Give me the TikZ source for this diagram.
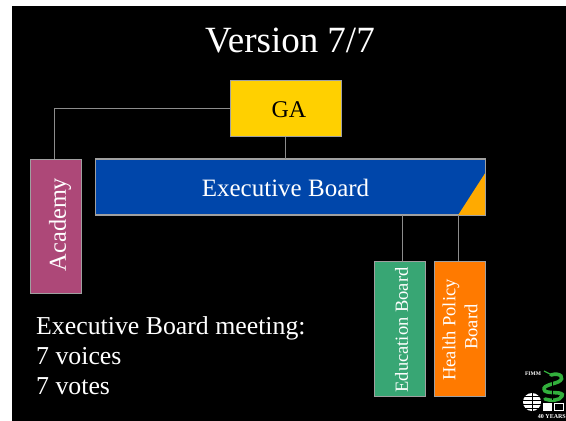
\documentclass[tikz,border=0pt]{standalone}
\usepackage{fontspec}
\setmainfont{Liberation Serif}
\definecolor{gaY}{RGB}{255,208,0}
\definecolor{exB}{RGB}{0,70,170}
\definecolor{acM}{RGB}{173,72,120}
\definecolor{edG}{RGB}{56,166,116}
\definecolor{hpO}{RGB}{255,122,0}
\definecolor{triO}{RGB}{255,170,0}
\definecolor{lineG}{RGB}{160,160,160}
\definecolor{connG}{RGB}{140,140,140}
\definecolor{snakeG}{RGB}{50,175,60}
\tikzset{
 px/.style={x=1pt,y=-1pt},
 boxn/.style={draw=lineG,line width=0.8pt,inner sep=0pt,align=center,text=white},
 conn/.style={draw=connG,line width=1pt},
 lbl/.style={text=white,inner sep=0pt,align=left}
}
\begin{document}
\begin{tikzpicture}[px]
\useasboundingbox (0,0) rectangle (566,421);
\fill[white] (0,0) rectangle (566,421);
\fill[black] (12,6) rectangle (566,421);
\node[lbl,font=\fontsize{37}{40}\selectfont] (title) at (290,41) {Version 7/7};
% boxes
\node[boxn,fill=gaY,minimum width=111.2pt,minimum height=55.6pt] (ga) at (285.8,108.3) {};
\node[text=black,inner sep=0pt,font=\fontsize{24}{28}\selectfont] (gal) at (289,110) {GA};
\node[boxn,fill=exB,minimum width=389.5pt,minimum height=55.6pt] (ex) at (290.5,187) {};
\fill[triO] (458.3,214.8) -- (485.2,173) -- (485.2,214.8) -- cycle;
\draw[lineG,line width=0.8pt] (ex.south west) rectangle (ex.north east);
\node[text=white,inner sep=0pt,font=\fontsize{25}{28}\selectfont] (exl) at (285.5,188) {Executive Board};
\node[boxn,fill=acM,minimum width=51.2pt,minimum height=134.6pt] (ac) at (56,226.5) {};
\node[text=white,inner sep=0pt,rotate=90,font=\fontsize{24.3}{28}\selectfont] (acl) at (60,224.5) {Academy};
\node[boxn,fill=edG,minimum width=50.8pt,minimum height=134.6pt] (ed) at (399.8,328.8) {};
\node[text=white,inner sep=0pt,rotate=90,font=\fontsize{18.5}{20}\selectfont] (edl) at (401.5,330) {Education Board};
\node[boxn,fill=hpO,minimum width=50.8pt,minimum height=134.6pt] (hp) at (460,328.8) {};
\node[text=white,inner sep=0pt,rotate=90,align=center,font=\fontsize{18.5}{22}\selectfont] (hpl) at (460,330) {Health Policy\\\hspace*{6pt}Board};
% connectors
\coordinate (acTop) at ([xshift=-2pt]ac.north);
\coordinate (edTop) at ([xshift=2.5pt]ed.north);
\coordinate (hpTop) at ([xshift=-2pt]hp.north);
\draw[conn] (ga.west) -| (acTop);
\draw[conn] (ga.south) -- (ga.south |- ex.north);
\draw[conn] (edTop) -- (edTop |- ex.south);
\draw[conn] (hpTop) -- (hpTop |- ex.south);
% text
\node[lbl,anchor=north west,font=\fontsize{25.8}{30}\selectfont] (txt) at (36,316) {Executive Board meeting:\\7 voices\\7 votes};
% logo
\node[text=white,inner sep=0pt,font=\fontsize{5.5}{6}\selectfont\bfseries] (fimm) at (533,373.5) {FIMM};
\node[text=white,inner sep=0pt,font=\fontsize{6}{6}\selectfont\bfseries,anchor=east] (yrs) at (566,416.5) {40 YEARS};
\draw[snakeG,line width=3.6pt,line cap=round] (551,375) .. controls (560,372) and (566,378) .. (558,382) .. controls (550,385) and (541,386) .. (545,391) .. controls (549,394) and (565,391) .. (562,396) .. controls (560,401) and (550,401) .. (545,399);
\draw[snakeG,line width=1.2pt] (544,371) -- (552,375);
\draw[black,line width=0.8pt] (552,377) -- (552,400);
\fill[white] (532,402) circle (9);
\foreach \yy in {396,400,404,408} {\draw[black,line width=0.6pt] (522,\yy) -- (542,\yy);}
\draw[black,line width=0.6pt] (532,393) -- (532,411);
\fill[white] (543,403) rectangle (552,411);
\draw[white,line width=1pt] (554,403) rectangle (563,410);
\end{tikzpicture}
\end{document}
